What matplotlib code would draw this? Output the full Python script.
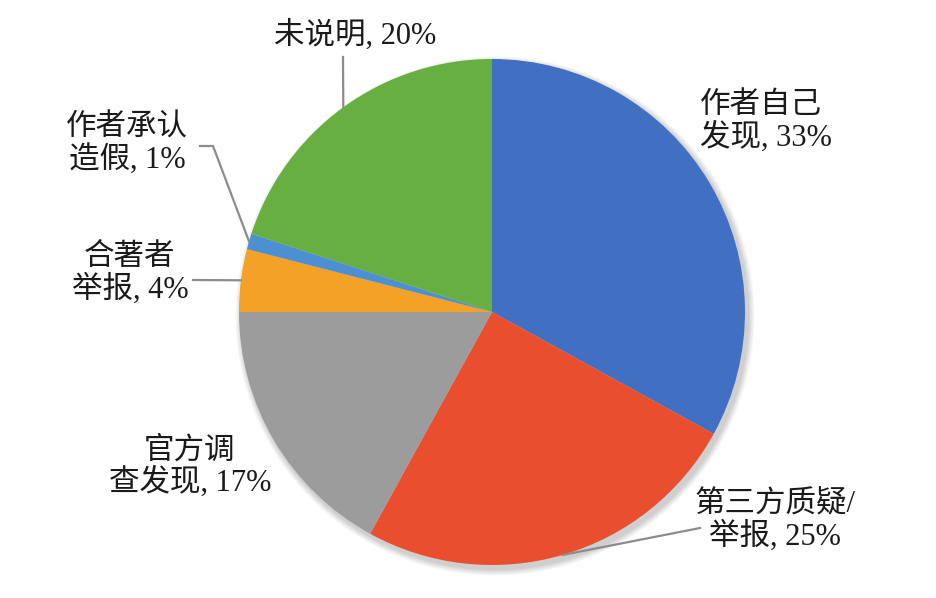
import numpy as np
import matplotlib.pyplot as plt
from matplotlib.patches import Circle

# 数据
labels = ['作者自己\n发现, 33%', '第三方质疑/\n举报, 25%', '官方调\n查发现, 17%',
          '合著者\n举报, 4%', '作者承认\n造假, 1%', '未说明, 20%']
values = [33, 25, 17, 4, 1, 20]
colors = ['#4170C3', '#E94F2F', '#9C9C9C', '#F3A127', '#4C8FD3', '#67AF41']

# 标签位置 (像素, 自上而下) 以及是否带引导线
label_pos = [(766, 122), (775, 521), (190, 467), (130, 274), (127, 144), (355, 35)]
leader = [None, [(700, 528)], None, [(193, 280)], [(200, 146), (213, 146)], [(343, 57)]]
align = ['left', 'center', 'center', 'center', 'center', 'center']

W, H = 937, 598
cx, cy, r = 492, 312, 253

fig = plt.figure(figsize=(W / 100, H / 100), dpi=100)
ax = fig.add_axes([0, 0, 1, 1])

# 柔和阴影
for i in range(8):
    ax.add_patch(Circle((cx + 3, H - cy - 4), r + 1 + i * 0.8, color='black',
                        alpha=0.025, lw=0, zorder=0))

wedges, _ = ax.pie(values, colors=colors, startangle=90, counterclock=False,
                   center=(cx, H - cy), radius=r, frame=True,
                   wedgeprops=dict(linewidth=0))
ax.set_xlim(0, W)
ax.set_ylim(0, H)
ax.set_aspect('equal')
ax.axis('off')

font = ['Liberation Serif', 'Noto Sans CJK SC']
for w, lab, (lx, ly), ld, al in zip(wedges, labels, label_pos, leader, align):
    ax.text(lx, H - ly, lab, ha='center', va='center', fontsize=22,
            family=font, color='#1A1A1A', multialignment=al, linespacing=1.05)
    if ld is not None:
        mid = np.deg2rad((w.theta1 + w.theta2) / 2)
        ex, ey = cx + r * np.cos(mid), (H - cy) + r * np.sin(mid)
        xs = [p[0] for p in ld] + [ex]
        ys = [H - p[1] for p in ld] + [ey]
        ax.plot(xs, ys, color='#8C8C8C', lw=1.6, zorder=3)

fig.savefig('out.png', dpi=100)
